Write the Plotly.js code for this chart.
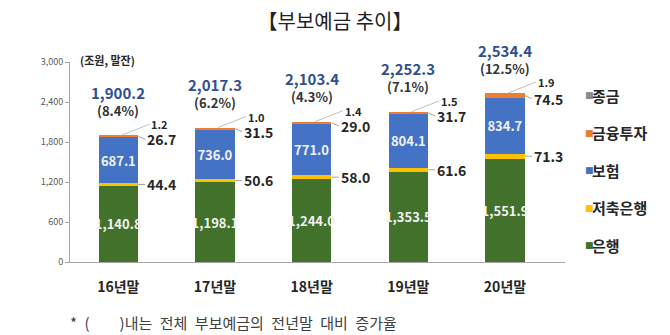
<!DOCTYPE html>
<html><head><meta charset="utf-8">
<script src="https://cdn.plot.ly/plotly-3.0.1.min.js"></script>
<style>html,body{margin:0;padding:0;background:#fff}#chart{width:670px;height:335px}</style>
</head><body><div id="chart"></div>
<script>
const categories = ['16년말', '17년말', '18년말', '19년말', '20년말'];
const bank = [1140.8, 1198.1, 1244.0, 1353.5, 1551.9];
const savingsBank = [44.4, 50.6, 58.0, 61.6, 71.3];
const insurance = [687.1, 736.0, 771.0, 804.1, 834.7];
const investment = [26.7, 31.5, 29.0, 31.7, 74.5];
const merchantBank = [1.2, 1.0, 1.4, 1.5, 1.9];
const totals = [1900.2, 2017.3, 2103.4, 2252.3, 2534.4];
const growth = ['8.4%', '6.2%', '4.3%', '7.1%', '12.5%'];
const seriesNames = ['은행', '저축은행', '보험', '금융투자', '종금'];
const seriesColors = ['#41712A', '#FFC000', '#4472C4', '#ED7D31', '#8C8C8C'];
const yTicks = [0, 600, 1200, 1800, 2400, 3000];
const titleText = '【부보예금 추이】';
const unitText = '(조원, 말잔)';
const footnote = '*\u2002(\u2003\u2003)내는\u2002전체\u2002부보예금의\u2002전년말\u2002대비\u2002증가율';

const FONT = '"Noto Sans CJK KR", "Noto Sans", sans-serif';
const fmt = v => v.toLocaleString('en-US', {minimumFractionDigits: 1, maximumFractionDigits: 1});
const seriesValues = [bank, savingsBank, insurance, investment, merchantBank];

const traces = seriesValues.map((vals, k) => {
  const showInside = (k === 0 || k === 2);
  return {
    type: 'bar', x: categories, y: vals, name: seriesNames[k],
    marker: {color: seriesColors[k], line: {width: 0}},
    text: showInside ? vals.map(fmt) : undefined,
    textposition: showInside ? 'inside' : 'none',
    insidetextanchor: 'middle',
    constraintext: 'none',
    textangle: 0,
    textfont: {family: FONT, size: 13, color: '#F2F2F2', weight: 'bold'},
    hoverinfo: 'x+y+name', showlegend: false
  };
});

const annotations = [];
const darkFont = {family: FONT, size: 14, color: '#262626', weight: 'bold'};
categories.forEach((c, i) => {
  const top = totals[i];
  annotations.push({x: c, y: top, xref: 'x', yref: 'y', text: fmt(top), showarrow: false,
    yshift: 43, yanchor: 'middle', font: {family: FONT, size: 15, color: '#2F4F8F', weight: 'bold'}});
  annotations.push({x: c, y: top, xref: 'x', yref: 'y', text: '(' + growth[i] + ')', showarrow: false,
    yshift: 25, yanchor: 'middle', font: {family: FONT, size: 13, color: '#333333', weight: 'bold'}});
  const ySav = bank[i] + savingsBank[i] / 2;
  annotations.push({x: c, y: ySav, xref: 'x', yref: 'y', text: fmt(savingsBank[i]), showarrow: true,
    arrowhead: 0, arrowwidth: 1, arrowcolor: '#A6A6A6', ax: 7, ay: 0, xshift: 20, xanchor: 'left', yanchor: 'middle',
    standoff: 0, font: darkFont});
  const yInv = bank[i] + savingsBank[i] + insurance[i] + investment[i] / 2;
  annotations.push({x: c, y: yInv, xref: 'x', yref: 'y', text: fmt(investment[i]), showarrow: true,
    arrowhead: 0, arrowwidth: 1, arrowcolor: '#A6A6A6', ax: 7, ay: 3, xshift: 20, xanchor: 'left', yanchor: 'middle',
    standoff: 0, font: darkFont});
  annotations.push({x: c, y: top, xref: 'x', yref: 'y', text: fmt(merchantBank[i]), showarrow: true,
    arrowhead: 0, arrowwidth: 1, arrowcolor: '#BFBFBF', ax: 28, ay: -11, xshift: 3, xanchor: 'left', yanchor: 'middle',
    standoff: 0, font: {family: FONT, size: 11, color: '#262626', weight: 'bold'}});
});

// legend drawn as annotations (top to bottom: reversed stacking order)
const legendYs = [0.085, 0.272, 0.46, 0.647, 0.835];
seriesNames.forEach((n, k) => {
  annotations.push({xref: 'paper', yref: 'paper', x: 1.036, y: legendYs[k], text: '■', showarrow: false,
    xanchor: 'left', yanchor: 'middle', font: {family: 'DejaVu Sans', size: 9, color: seriesColors[k]}});
  annotations.push({xref: 'paper', yref: 'paper', x: 1.05, y: legendYs[k], text: n, showarrow: false,
    xanchor: 'left', yanchor: 'middle', font: {family: FONT, size: 15, color: '#262626', weight: 'bold'}});
});

annotations.push({xref: 'paper', yref: 'paper', x: 0.016, y: 1.01, text: unitText, showarrow: false,
  xanchor: 'left', yanchor: 'middle', font: {family: FONT, size: 11, color: '#262626', weight: 'bold'}});
annotations.push({xref: 'paper', yref: 'paper', x: -0.004, y: -0.30, text: footnote, showarrow: false,
  xanchor: 'left', yanchor: 'middle', font: {family: FONT, size: 15, color: '#404040'}});

const layout = {
  width: 670, height: 335,
  margin: {l: 70, r: 105, t: 62, b: 73},
  paper_bgcolor: '#FFFFFF', plot_bgcolor: '#FFFFFF',
  font: {family: FONT},
  title: {text: titleText, xref: 'container', yref: 'container', x: 0.5, y: 0.935, xanchor: 'center', yanchor: 'middle',
    font: {family: FONT, size: 20, color: '#222222'}},
  barmode: 'stack', bargap: 0.596,
  showlegend: false,
  xaxis: {type: 'category', showline: true, linecolor: '#A6A6A6', linewidth: 1, ticks: '', showgrid: false,
    ticklabelstandoff: 12, tickfont: {family: FONT, size: 14, color: '#262626', weight: 'bold'}},
  yaxis: {range: [0, 3000], tickvals: yTicks, tickformat: ',d', showline: true, linecolor: '#A6A6A6', linewidth: 1,
    ticks: 'outside', ticklen: 4, tickcolor: '#A6A6A6', showgrid: false, zeroline: false,
    tickfont: {family: FONT, size: 9, color: '#595959'}},
  annotations: annotations
};

Plotly.newPlot('chart', traces, layout, {staticPlot: true, displayModeBar: false});
</script></body></html>
